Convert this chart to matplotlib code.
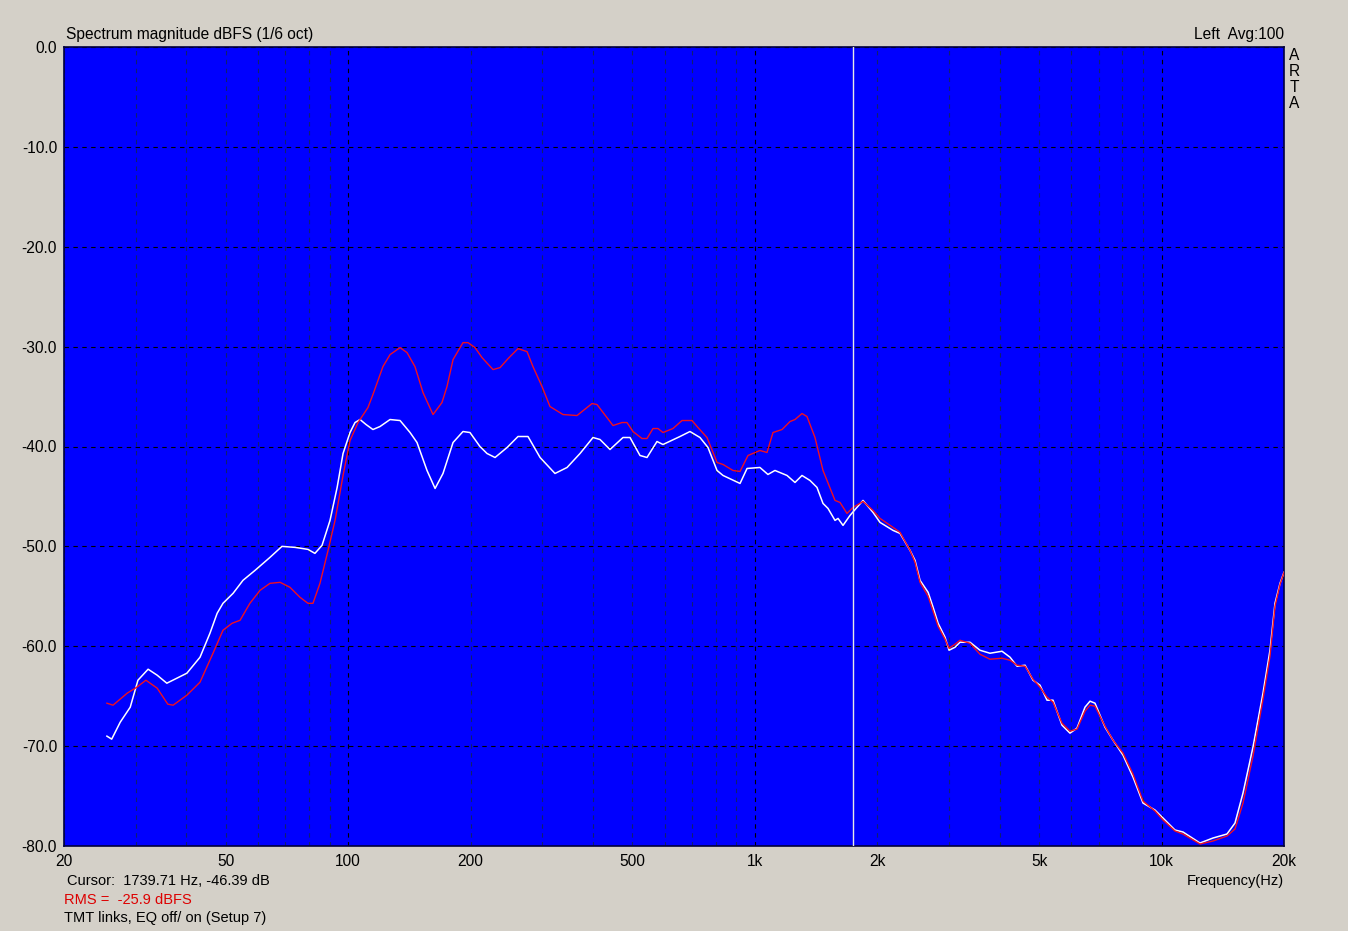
import numpy as np
import matplotlib
matplotlib.use("Agg")
import matplotlib.pyplot as plt
from matplotlib.ticker import FixedLocator, FuncFormatter

plt.rcParams["font.family"] = ["Liberation Sans", "DejaVu Sans"]

# white trace (EQ off), Hz / dBFS
white_f = [25.5, 26.2, 27.5, 29.1, 30.4, 32.2, 33.9, 35.8, 37.9, 40.1, 43.2, 45.7,
           47.6, 49.2, 52.1, 55.1, 59.0, 64.2, 68.7, 74.0, 79.6, 82.8, 86.2, 90.2,
           93.9, 97.1, 101.0, 103.9, 106.9, 110.6, 115.0, 119.7, 126.7, 134.1, 141.9,
           147.6, 156.2, 163.5, 171.0, 181.0, 191.5, 199.2, 210.8, 219.4, 229.6,
           245.8, 261.5, 276.7, 296.3, 322.4, 345.2, 371.5, 399.8, 416.0, 440.2,
           473.8, 493.0, 521.7, 542.8, 574.4, 594.2, 654.2, 692.3, 732.7, 766.7,
           806.9, 834.8, 919.2, 956.4, 1028.8, 1076.6, 1120.2, 1199.4, 1254.8,
           1305.4, 1366.0, 1421.2, 1470.4, 1512.6, 1573.8, 1601.0, 1646.8, 1713.4,
           1844.2, 1951.8, 2030.6, 2186.2, 2274.0, 2406.8, 2476.0, 2547.0, 2666.4,
           2742.6, 2821.6, 2934.6, 3001.6, 3104.6, 3193.4, 3379.6, 3576.6, 3784.6,
           4051.6, 4240.6, 4411.2, 4616.8, 4828.2, 5023.8, 5227.2, 5407.6, 5689.4,
           5953.0, 6194.4, 6481.2, 6668.6, 6859.2, 7258.0, 7595.2, 8037.8, 8506.0,
           9001.6, 9633.8, 10082, 10790, 11290, 12430, 13380, 14482, 15154, 15856,
           16778, 17756, 18474, 19006, 19554, 20000]
white_db = [-69.0, -69.3, -67.6, -66.1, -63.4, -62.3, -62.9, -63.7, -63.2, -62.7, -61.1, -58.7,
            -56.7, -55.7, -54.7, -53.4, -52.4, -51.1, -50.0, -50.1, -50.3, -50.7, -49.9, -47.4,
            -44.1, -40.7, -38.6, -37.6, -37.3, -37.8, -38.3, -38.0, -37.3, -37.4, -38.6,
            -39.6, -42.4, -44.2, -42.7, -39.6, -38.5, -38.6, -40.0, -40.7, -41.1,
            -40.1, -39.0, -39.0, -41.1, -42.7, -42.1, -40.7, -39.1, -39.3, -40.3,
            -39.1, -39.1, -40.9, -41.1, -39.5, -39.8, -39.0, -38.5, -39.1, -40.1,
            -42.4, -42.9, -43.7, -42.2, -42.1, -42.8, -42.4, -42.9, -43.6,
            -42.9, -43.4, -44.1, -45.7, -46.2, -47.4, -47.2, -47.9, -46.9,
            -45.4, -46.6, -47.6, -48.4, -48.7, -50.4, -51.4, -53.4, -54.6,
            -56.1, -57.7, -59.1, -60.4, -60.1, -59.6, -59.6, -60.4, -60.7,
            -60.5, -61.1, -62.0, -61.9, -63.4, -63.9, -65.4, -65.4, -67.9,
            -68.7, -68.2, -66.1, -65.5, -65.7, -68.1, -69.4, -70.9, -73.1,
            -75.7, -76.4, -77.2, -78.4, -78.6, -79.7, -79.2, -78.8, -77.7, -74.7,
            -70.1, -64.7, -60.4, -55.7, -53.7, -52.6]

# red trace (EQ on)
red_f = [25.5, 26.4, 28.6, 30.2, 31.8, 33.9, 36.0, 37.1, 40.1, 43.2, 46.5, 49.2,
         51.8, 54.2, 57.3, 60.7, 64.2, 68.0, 71.9, 76.1, 79.6, 81.9, 85.2, 89.2,
         92.8, 97.1, 101.0, 105.7, 111.8, 115.0, 121.7, 126.7, 134.1, 139.5, 145.9,
         152.7, 161.6, 170.0, 174.9, 181.0, 191.5, 197.0, 205.0, 213.3, 227.0,
         236.2, 247.2, 261.5, 275.2, 284.6, 299.6, 313.4, 337.4, 365.2, 397.6,
         409.0, 432.8, 447.8, 471.2, 484.6, 501.4, 527.6, 542.8, 561.6, 577.6,
         594.2, 628.8, 661.8, 700.4, 724.4, 762.4, 806.9, 834.8, 883.2, 919.2,
         961.6, 1028.8, 1070.8, 1107.8, 1166.0, 1220.0, 1254.8, 1305.4, 1343.0,
         1405.2, 1470.4, 1573.8, 1618.8, 1684.4, 1742.8,
         1844.2, 1951.8, 2030.6, 2186.2, 2274.0, 2406.8, 2476.0, 2547.0, 2666.4,
         2742.6, 2821.6, 2934.6, 3001.6, 3104.6, 3193.4, 3379.6, 3576.6, 3784.6,
         4051.6, 4240.6, 4411.2, 4616.8, 4828.2, 5023.8, 5227.2, 5407.6, 5689.4,
         5953.0, 6194.4, 6481.2, 6668.6, 6859.2, 7258.0, 7595.2, 8037.8, 8506.0,
         9001.6, 9633.8, 10082, 10790, 11290, 12430, 13380, 14482, 15154, 15856,
         16778, 17756, 18474, 19006, 19554, 20000]
red_db = [-65.7, -65.9, -64.7, -64.1, -63.4, -64.2, -65.8, -65.9, -64.9, -63.6, -60.7, -58.4,
          -57.7, -57.4, -55.7, -54.4, -53.7, -53.6, -54.1, -55.1, -55.7, -55.7, -53.7, -50.4,
          -47.4, -42.9, -39.4, -37.6, -36.1, -34.8, -32.0, -30.8, -30.1, -30.6, -32.0,
          -34.6, -36.8, -35.6, -34.0, -31.3, -29.6, -29.6, -30.1, -31.1, -32.3,
          -32.1, -31.2, -30.2, -30.5, -32.0, -34.0, -36.0, -36.8, -36.9, -35.7,
          -35.8, -37.1, -37.9, -37.6, -37.6, -38.5, -39.2, -39.2, -38.2, -38.2,
          -38.6, -38.2, -37.4, -37.4, -38.1, -39.1, -41.6, -41.8, -42.4, -42.5,
          -40.9, -40.4, -40.6, -38.6, -38.3, -37.5, -37.3, -36.7, -37.0,
          -39.1, -42.4, -45.4, -45.6, -46.7, -46.1,
          -45.5, -46.4, -47.2, -48.1, -48.6, -50.4, -51.6, -53.6, -55.0,
          -56.5, -58.0, -59.3, -60.2, -59.8, -59.4, -59.7, -60.8, -61.3,
          -61.2, -61.4, -61.9, -62.0, -63.3, -64.1, -65.1, -65.6, -67.7,
          -68.5, -68.3, -66.5, -65.9, -66.0, -68.0, -69.4, -70.7, -72.8,
          -75.5, -76.5, -77.4, -78.5, -78.8, -79.8, -79.5, -79.0, -78.3, -75.7,
          -71.0, -65.3, -61.0, -56.0, -53.8, -52.6]

cursor_hz = 1739.71
label_freqs = [20, 50, 100, 200, 500, 1000, 2000, 5000, 10000, 20000]
label_texts = ["20", "50", "100", "200", "500", "1k", "2k", "5k", "10k", "20k"]

BG = "#d4d0c8"
FS = 11.2
FS_SMALL = 10.5


def freq_label(v, pos):
    v = int(round(v))
    return label_texts[label_freqs.index(v)] if v in label_freqs else ""


fig = plt.figure(figsize=(13.48, 9.31), dpi=100, facecolor=BG)
ax = fig.add_axes([64 / 1348, 1 - 846 / 931, 1220 / 1348, 799 / 931])
ax.set_facecolor("#0000ff")
ax.set_xscale("log")
ax.set_xlim(20, 20000)
ax.set_ylim(-80, 0)

# grid: decades black, the rest dark navy
decades = [100, 1000, 10000]
minor = [m * d for d in (10, 100, 1000) for m in range(2, 10)] + [20000]
ax.xaxis.set_major_locator(FixedLocator(decades))
ax.xaxis.set_minor_locator(FixedLocator(minor))
ax.xaxis.set_major_formatter(FuncFormatter(freq_label))
ax.xaxis.set_minor_formatter(FuncFormatter(freq_label))
ax.set_yticks(np.arange(-80, 1, 10))
ax.yaxis.set_major_formatter(FuncFormatter(lambda v, p: f"{v:.1f}"))
ax.grid(True, which="major", axis="both", color="black", linestyle=(0, (4, 4)), linewidth=0.8)
ax.grid(True, which="minor", axis="x", color="#102070", linestyle=(0, (4, 4)), linewidth=0.8)
ax.tick_params(axis="both", which="both", length=0, labelsize=FS, colors="black")
ax.tick_params(axis="x", which="both", pad=6)
ax.tick_params(axis="y", pad=5)
for s in ax.spines.values():
    s.set_color("#000040")
    s.set_linewidth(1.2)

ax.plot(white_f, white_db, color="white", linewidth=1.1, zorder=3)
ax.plot(red_f, red_db, color="#f01020", linewidth=1.0, zorder=4)
ax.axvline(cursor_hz, color="#e8e8e8", linewidth=1.0, zorder=5)

fig.text(66 / 1348, 1 - 34 / 931, "Spectrum magnitude dBFS (1/6 oct)", fontsize=FS, va="center", ha="left")
fig.text(1284 / 1348, 1 - 34 / 931, "Left  Avg:100", fontsize=FS, va="center", ha="right")
for i, ch in enumerate("ARTA"):
    fig.text(1294 / 1348, 1 - (56 + i * 16) / 931, ch, fontsize=FS, va="center", ha="center")
fig.text(1284 / 1348, 1 - 881 / 931, "Frequency(Hz)", fontsize=FS_SMALL, va="center", ha="right")
fig.text(67 / 1348, 1 - 881 / 931, "Cursor:  1739.71 Hz, -46.39 dB", fontsize=FS_SMALL, va="center", ha="left")
fig.text(64 / 1348, 1 - 900 / 931, "RMS =  -25.9 dBFS", fontsize=FS_SMALL, va="center", ha="left", color="#dd0000")
fig.text(64 / 1348, 1 - 918 / 931, "TMT links, EQ off/ on (Setup 7)", fontsize=FS_SMALL, va="center", ha="left")

fig.savefig("out.png", dpi=100, facecolor=BG)
